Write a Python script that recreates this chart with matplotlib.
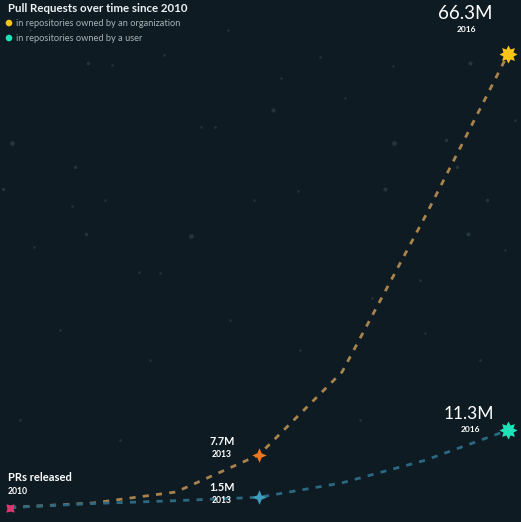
import matplotlib
matplotlib.use("Agg")
import matplotlib.pyplot as plt
import numpy as np

# ---- data ----
years = [2010, 2011, 2012, 2013, 2014, 2015, 2016]
org_prs = [0.0, 0.66, 2.27, 7.7, 19.8, 42.5, 66.3]     # millions
user_prs = [0.0, 0.58, 1.0, 1.5, 3.6, 6.9, 11.3]      # millions
title = "Pull Requests over time since 2010"
legend_labels = ["in repositories owned by an organization", "in repositories owned by a user"]

BG = "#0e1b22"
ORG_LINE = "#a8834c"
USER_LINE = "#2b6882"
W, H = 521, 522

fig = plt.figure(figsize=(W / 100, H / 100), dpi=100, facecolor=BG)
ax = fig.add_axes([0, 0, 1, 1], facecolor=BG)
ax.set_axis_off()

# pixel mapping: year 2010 -> x=10, 83 px/year ; value 0 -> y=507.5, 6.84 px/M
x0, kx = 10, 83.0
y0, ky = 507.5, 6.84
ax.set_xlim(2010 - x0 / kx, 2010 + (W - x0) / kx)
ax.set_ylim(-(H - y0) / ky, y0 / ky)

# faint background specks (decoration)
specks_px = [(12, 143, 3.5), (191, 236, 3.5), (273, 110, 3), (88, 63, 2.5), (75, 167, 2.5),
             (3, 189, 2.5), (86, 234, 2.5), (394, 143, 3.5), (385, 189, 3), (470, 63, 3),
             (468, 234, 3), (457, 167, 2.5), (487, 200, 2.5), (446, 140, 2.5), (215, 127, 2),
             (112, 65, 1.8), (164, 55, 1.8), (201, 127, 1.8), (105, 200, 1.8), (34, 247, 1.8),
             (139, 272, 1.8), (160, 273, 1.8), (72, 206, 1.8), (281, 78, 1.8), (298, 191, 1.8),
             (320, 57, 1.8), (254, 200, 1.8), (345, 98, 1.8), (393, 66, 1.8), (420, 280, 1.8),
             (372, 298, 1.8), (480, 360, 1.8), (425, 333, 1.8), (360, 420, 1.8), (300, 350, 1.8),
             (60, 330, 1.8), (150, 360, 1.8), (230, 320, 1.8), (20, 420, 1.8), (120, 440, 1.8),
             (505, 250, 1.8), (515, 120, 1.8), (30, 30, 1.8), (228, 30, 1.8)]
for px, py, s in specks_px:
    ax.plot(2010 + (px - x0) / kx, (y0 - py) / ky, "o", ms=s, color="#24343d",
            markeredgewidth=0, zorder=1)

ax.plot(years, org_prs, color=ORG_LINE, lw=2.0, dashes=(2.2, 2.6), zorder=2)
ax.plot(years, user_prs, color=USER_LINE, lw=2.0, dashes=(2.2, 2.6), zorder=2)

def star(n, inner):
    pts = []
    for i in range(2 * n):
        r = 1.0 if i % 2 == 0 else inner
        a = np.pi / 2 + i * np.pi / n
        pts.append((r * np.cos(a), r * np.sin(a)))
    pts.append(pts[0])
    return pts

star8 = star(8, 0.6)
star4 = star(4, 0.42)
notched = [(-1, -1), (0, -0.75), (1, -1), (0.75, 0), (1, 1), (0, 0.75), (-1, 1), (-0.75, 0), (-1, -1)]

ax.plot(years[0], org_prs[0], marker=notched, ms=6, color="#e0356e", mew=0, zorder=4)
ax.plot(years[3], org_prs[3], marker=star4, ms=10.5, color="#f0761a", mew=0, zorder=4)
ax.plot(years[3], user_prs[3], marker=star4, ms=10.5, color="#3c9cc0", mew=0, zorder=4)
ax.plot(years[6], org_prs[6], marker=star8, ms=13, color="#f7c517", mew=0, zorder=4)
ax.plot(years[6], user_prs[6], marker=star8, ms=13, color="#1fe0b6", mew=0, zorder=4)

FONT = "Lato"

def ftext(px, py, s, **kw):
    fig.text(px / W, 1 - py / H, s, va="baseline", family=FONT, **kw)

ftext(8, 11.5, title, fontsize=8.3, fontweight="bold", color="#eef1f2")
fig.patches.append(plt.Circle((9 / W, 1 - 23 / H), 2.6 / W, transform=fig.transFigure,
                              color="#f7c517", figure=fig))
fig.patches.append(plt.Circle((9 / W, 1 - 38 / H), 2.6 / W, transform=fig.transFigure,
                              color="#1fe0b6", figure=fig))
ftext(16, 26, legend_labels[0], fontsize=6.7, color="#a9b2b7")
ftext(16, 41, legend_labels[1], fontsize=6.7, color="#a9b2b7")

ftext(465, 19, f"{org_prs[6]:.1f}M", fontsize=13.5, color="white", ha="center", fontweight="normal")
ftext(466, 32, str(years[6]), fontsize=6, color="white", ha="center", fontweight="bold")
ftext(469, 419, f"{user_prs[6]:.1f}M", fontsize=12.5, color="white", ha="center", fontweight="normal")
ftext(470, 432, str(years[6]), fontsize=6, color="white", ha="center", fontweight="bold")
ftext(222, 445, f"{org_prs[3]:.1f}M", fontsize=7.8, color="white", ha="center", fontweight="bold")
ftext(222, 457, str(years[3]), fontsize=6.2, color="white", ha="center", fontweight="bold")
ftext(222, 491, f"{user_prs[3]:.1f}M", fontsize=7.8, color="white", ha="center", fontweight="bold")
ftext(222, 503, str(years[3]), fontsize=6.2, color="white", ha="center", fontweight="bold")
ftext(8, 481, "PRs released", fontsize=8, color="white", fontweight="bold")
ftext(8, 494, str(years[0]), fontsize=6.2, color="white", fontweight="bold")

fig.savefig("out.png", dpi=100, facecolor=BG)
